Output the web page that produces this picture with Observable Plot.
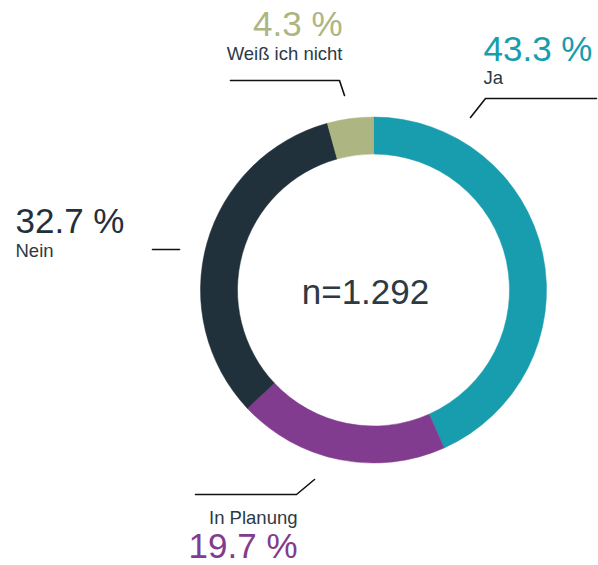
<!DOCTYPE html>
<html>
<head>
<meta charset="utf-8">
<script src="https://cdn.jsdelivr.net/npm/d3@7"></script>
<script src="https://cdn.jsdelivr.net/npm/@observablehq/plot@0.6"></script>
<style>
  html, body { margin: 0; padding: 0; background: #fff; }
  svg { display: block; }
</style>
</head>
<body>
<div id="chart"></div>
<script>
// ---- data ----
const categories = ["Ja", "In Planung", "Nein", "Weiß ich nicht"];
const values = [43.3, 19.7, 32.7, 4.3];
const valueLabels = ["43.3 %", "19.7 %", "32.7 %", "4.3 %"];
const totalLabel = "n=1.292";

// ---- styles / layout (pixel space) ----
const colors = ["#179dad", "#823c8f", "#21313b", "#adb682"];
const textColor = "#2b3a45";
const W = 598, H = 565;
const ring = {cx: 373.5, cy: 290, outer: 173, inner: 136};
const labelLayout = [
  {anchor: "start", x: 483, yPct: 60, yCat: 83},
  {anchor: "end", x: 297, yPct: 557, yCat: 523},
  {anchor: "start", x: 15, yPct: 232, yCat: 256},
  {anchor: "end", x: 342, yPct: 35, yCat: 59}
];
const leaders = [
  [[470, 117], [485, 98], [596, 98]],
  [[195, 494], [296, 494], [314, 479]],
  [[152, 249], [179, 249]],
  [[230, 80], [339, 80], [344, 95]]
];

const slices = categories.map((c, i) => ({category: c, value: values[i], color: colors[i], label: valueLabels[i], ...labelLayout[i]}));
const pie = d3.pie().sort(null).value(d => d.value)(slices);

const leaderPts = leaders.flatMap((pts, i) => pts.map(([x, y]) => ({x, y, g: i})));

function ringMark(index, scales) {
  const g = d3.create("svg:g");
  const cx = scales.x(ring.cx), cy = scales.y(ring.cy);
  const ro = scales.x(ring.cx + ring.outer) - cx;
  const ri = scales.x(ring.cx + ring.inner) - cx;
  const arc = d3.arc().innerRadius(ri).outerRadius(ro);
  g.attr("transform", `translate(${cx},${cy})`);
  g.selectAll("path").data(pie).join("path")
    .attr("d", arc)
    .attr("fill", d => d.data.color)
    .attr("stroke", d => d.data.color)
    .attr("stroke-width", 0.5);
  return g.node();
}

const font = "'Liberation Sans', Arial, Helvetica, sans-serif";

function labelMarks(anchor) {
  const data = slices.filter(d => d.anchor === anchor);
  return [
    Plot.text(data, {
      x: "x", y: "yPct", text: "label", textAnchor: anchor,
      fill: "color", fontSize: 35, lineAnchor: "bottom", fontFamily: font
    }),
    Plot.text(data, {
      x: "x", y: "yCat", text: "category", textAnchor: anchor,
      fill: textColor, fontSize: 18.5, lineAnchor: "bottom", fontFamily: font
    })
  ];
}

const chart = Plot.plot({
  width: W,
  height: H,
  margin: 0,
  x: {domain: [0, W], range: [0, W], axis: null},
  y: {domain: [0, H], range: [0, H], axis: null},
  style: {fontFamily: font, background: "#fff"},
  marks: [
    ringMark,
    Plot.line(leaderPts, {x: "x", y: "y", z: "g", stroke: "#111", strokeWidth: 1.6}),
    ...labelMarks("start"),
    ...labelMarks("end"),
    Plot.text([totalLabel], {
      x: [365], y: [303], text: d => d, fill: textColor, fontSize: 35,
      lineAnchor: "bottom", fontFamily: font
    })
  ]
});
document.getElementById("chart").appendChild(chart);
</script>
</body>
</html>
